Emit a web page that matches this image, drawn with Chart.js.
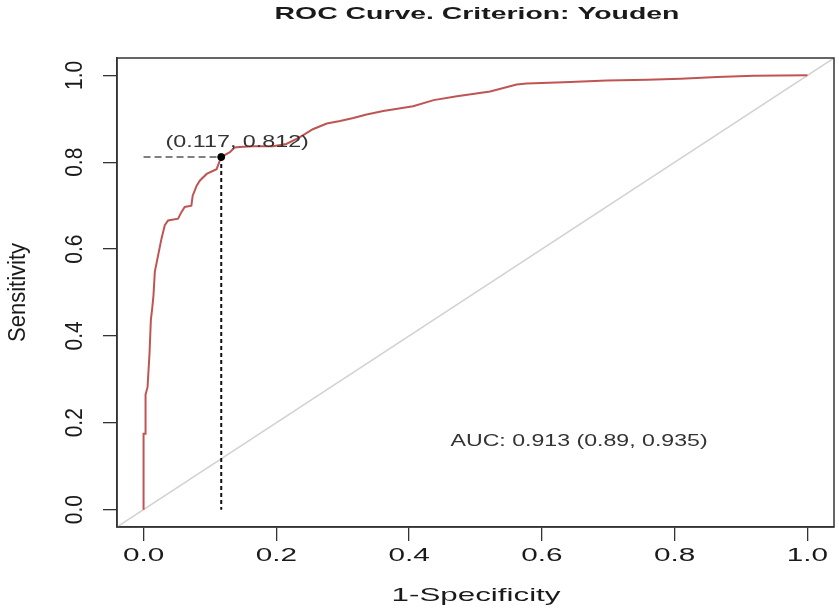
<!DOCTYPE html>
<html>
<head>
<meta charset="utf-8">
<script src="https://cdn.jsdelivr.net/npm/chart.js@4.4.1/dist/chart.umd.min.js"></script>
<style>
  html, body { margin: 0; padding: 0; background: #ffffff; }
  #wrap { width: 839px; height: 608px; }
</style>
</head>
<body>
<div id="wrap"><canvas id="roc" width="839" height="608"></canvas></div>
<script>
// ROC curve (1-specificity, sensitivity)
let fprValues = [0.000, 0.000, 0.003, 0.003, 0.006, 0.009, 0.011, 0.013, 0.015, 0.017,
                 0.022, 0.027, 0.032, 0.037, 0.052, 0.057, 0.062, 0.072, 0.074, 0.080,
                 0.085, 0.095, 0.110, 0.117, 0.130, 0.137, 0.145, 0.165, 0.195, 0.215,
                 0.235, 0.255, 0.276, 0.296, 0.316, 0.336, 0.361, 0.406, 0.437, 0.472,
                 0.522, 0.562, 0.577, 0.633, 0.698, 0.759, 0.809, 0.864, 0.919, 1.000]
let tprValues = [0.000, 0.175, 0.175, 0.265, 0.282, 0.360, 0.437, 0.463, 0.494, 0.548,
                 0.586, 0.624, 0.655, 0.666, 0.670, 0.685, 0.697, 0.700, 0.723, 0.746,
                 0.758, 0.773, 0.784, 0.812, 0.823, 0.834, 0.835, 0.837, 0.837, 0.842,
                 0.857, 0.876, 0.889, 0.895, 0.902, 0.910, 0.918, 0.929, 0.943, 0.952,
                 0.963, 0.979, 0.981, 0.984, 0.988, 0.990, 0.992, 0.996, 0.999, 1.000]

// Youden optimal threshold
let bestX = 0.117
let bestY = 0.812

// chance diagonal, runs across the whole plot region
let diagX = [-0.04, 1.04]
let diagY = [-0.04, 1.04]

let tickValues = [0, 0.2, 0.4, 0.6, 0.8, 1.0]
let tickLabels = ['0.0', '0.2', '0.4', '0.6', '0.8', '1.0']

let titleText = 'ROC Curve. Criterion: Youden'
let xTitle = '1-Specificity'
let yTitle = 'Sensitivity'
let aucText = 'AUC: 0.913 (0.89, 0.935)'
let aucPos = [0.656, 0.147]

let toPoints = (xs, ys) => xs.map((x, i) => ({ x: x, y: ys[i] }))

// draws text stretched horizontally, like the stretched source image
function stretchText(ctx, str, x, y, font, sx, angle) {
    ctx.save()
    ctx.translate(x, y)
    ctx.scale(sx, 1)
    if (angle) ctx.rotate(angle)
    ctx.font = font
    ctx.textAlign = 'center'
    ctx.textBaseline = 'alphabetic'
    ctx.fillText(str, 0, 0)
    ctx.restore()
}

let textPlugin = {
    id: 'rStyleText',
    afterDraw(chart) {
        let ctx = chart.ctx
        let area = chart.chartArea
        let xs = chart.scales.x
        let ys = chart.scales.y

        // box round the plot region
        ctx.save()
        ctx.strokeStyle = '#333333'
        ctx.lineWidth = 1.5
        ctx.strokeRect(area.left, area.top, area.right - area.left, area.bottom - area.top)
        ctx.restore()

        ctx.save()
        ctx.fillStyle = '#1a1a1a'
        stretchText(ctx, titleText, 477, 18.5, 'bold 17px "Liberation Sans", Arial, sans-serif', 1.67)

        // axis tick labels, placed through the scales
        xs.ticks.forEach((t, i) => {
            let px = xs.getPixelForValue(t.value)
            stretchText(ctx, tickLabels[i], px, 561, '18px "Liberation Sans", Arial, sans-serif', 1.65)
        })
        ys.ticks.forEach((t, i) => {
            let py = ys.getPixelForValue(t.value)
            stretchText(ctx, tickLabels[i], 82, py, '21px "Liberation Sans", Arial, sans-serif', 1.1, -Math.PI / 2)
        })

        stretchText(ctx, xTitle, 476, 600.5, '19px "Liberation Sans", Arial, sans-serif', 1.65)
        stretchText(ctx, yTitle, 25, (area.top + area.bottom) / 2, '22px "Liberation Sans", Arial, sans-serif', 1.1, -Math.PI / 2)

        // annotations
        ctx.fillStyle = '#333333'
        let bx = xs.getPixelForValue(bestX)
        let by = ys.getPixelForValue(bestY)
        let bestLabel = '(' + bestX.toFixed(3) + ', ' + bestY.toFixed(3) + ')'
        stretchText(ctx, bestLabel, bx + 16, by - 10, '17px "Liberation Sans", Arial, sans-serif', 1.37)
        stretchText(ctx, aucText, xs.getPixelForValue(aucPos[0]), ys.getPixelForValue(aucPos[1]),
            '17px "Liberation Sans", Arial, sans-serif', 1.36)
        ctx.restore()
    }
}

function axisOptions(size, isX) {
    return {
        type: 'linear',
        min: -0.04,
        max: 1.04,
        afterBuildTicks: scale => { scale.ticks = tickValues.map(v => ({ value: v })) },
        afterFit: scale => {
            if (isX) scale.height = size
            else scale.width = size
        },
        ticks: { display: false },
        grid: {
            display: true,
            drawOnChartArea: false,
            drawTicks: true,
            tickLength: 14,
            color: '#333333',
            lineWidth: 1.3
        },
        border: { display: true, color: '#333333', width: 1.5 }
    }
}

new Chart(document.getElementById('roc'), {
    type: 'scatter',
    data: {
        datasets: [
            {
                // optimal point
                data: [{ x: bestX, y: bestY }],
                showLine: false,
                pointRadius: 3.5,
                pointBackgroundColor: '#000000',
                pointBorderColor: '#000000'
            },
            {
                // vertical dotted drop line
                data: [{ x: bestX, y: bestY }, { x: bestX, y: 0 }],
                showLine: true,
                borderColor: '#111111',
                borderWidth: 2,
                borderDash: [4, 3],
                pointRadius: 0
            },
            {
                // horizontal dashed line
                data: [{ x: 0, y: bestY }, { x: bestX, y: bestY }],
                showLine: true,
                borderColor: '#808080',
                borderWidth: 1.8,
                borderDash: [7, 4],
                pointRadius: 0
            },
            {
                data: toPoints(fprValues, tprValues),
                showLine: true,
                borderColor: '#bf5553',
                borderWidth: 2,
                pointRadius: 0,
                tension: 0
            },
            {
                data: toPoints(diagX, diagY),
                showLine: true,
                borderColor: '#d3d3d3',
                borderWidth: 1.5,
                pointRadius: 0
            }
        ]
    },
    options: {
        responsive: false,
        animation: false,
        devicePixelRatio: 1,
        layout: { padding: { top: 58, right: 5, left: 0, bottom: 0 } },
        scales: {
            x: axisOptions(81, true),
            y: axisOptions(117, false)
        },
        plugins: {
            legend: { display: false },
            title: { display: false },
            tooltip: { enabled: false }
        }
    },
    plugins: [textPlugin]
})
</script>
</body>
</html>
